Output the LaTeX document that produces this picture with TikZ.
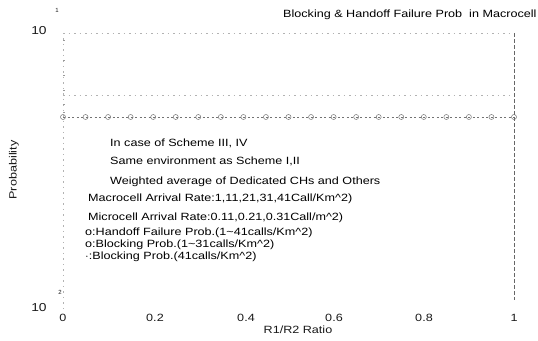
\documentclass[tikz,border=0pt]{standalone}
\usepackage{fontspec}
\setmainfont{Liberation Sans}
\newcommand{\wid}[1]{\scalebox{1.2}[1]{#1}}
\begin{document}
\begin{tikzpicture}[x=1pt,y=1pt,
  lbl/.style={font=\fontsize{10.5}{12}\selectfont, inner sep=0pt, anchor=west, text=black},
  tick/.style={font=\fontsize{10.5}{12}\selectfont, inner sep=0pt, text=black!90},
  grid/.style={draw=black!30, dash pattern=on 1.5pt off 4pt, line width=0.5pt},
  dataln/.style={draw=black!55, dash pattern=on 2pt off 2.5pt, line width=0.6pt},
  mk/.style={draw=black!55, line width=0.5pt}]
\useasboundingbox (0,0) rectangle (538,340);
\clip (0,0) rectangle (538,340);
% axes corners
\coordinate (TL) at (63,307);
\coordinate (BL) at (63,30);
\coordinate (TR) at (514,307);
\coordinate (BR) at (514,40);
\coordinate (ML) at (63,245);
\coordinate (MR) at (514,245);
\coordinate (DL) at (63,223);
\coordinate (DR) at (514,223);
% grid / axes
\draw[grid] (TL) -- (TR);
\draw[grid] (ML) -- (MR);
\draw[grid] (TL) -- (BL);
\draw[draw=black!60, dash pattern=on 4pt off 2pt, line width=0.6pt] (TR) -- (BR);
% left minor ticks
\foreach \yy in {300,280,265,250,236,228} \draw[black!40, line width=0.4pt] (63,\yy) -- (65,\yy);
% data line with markers
\draw[dataln] (DL) -- (DR);
\foreach \i in {0,...,20} {
  \node[mk, circle, minimum size=5pt, inner sep=0pt] (m\i) at ({63+22.55*\i},223) {};
}
% y labels
\node[tick, font=\fontsize{11.5}{13}\selectfont] (y10a) at (39,309) {\wid{10}};
\node[tick, font=\fontsize{6}{7}\selectfont] (y10ae) at (57,330) {1};
\node[tick, font=\fontsize{11.5}{13}\selectfont] (y10b) at (39,32) {\wid{10}};
\node[tick, font=\fontsize{6}{7}\selectfont] (y10be) at (60,48) {2};
% x ticks
\node[tick] (x0) at (63,22) {\wid{0}};
\node[tick] (x2) at (155,22) {\wid{0.2}};
\node[tick] (x4) at (246,22) {\wid{0.4}};
\node[tick] (x6) at (334,22) {\wid{0.6}};
\node[tick] (x8) at (424,22) {\wid{0.8}};
\node[tick] (x10) at (514,22) {\wid{1}};
\node[tick] (xl) at (298,10) {\wid{R1/R2 Ratio}};
\node[tick, rotate=90] (yl) at (14,170) {\wid{Probability}};
% title
\node[lbl] (title) at (283,325) {\wid{Blocking \& Handoff Failure Prob\ \ in Macrocell}};
% annotation text
\node[lbl] (t1) at (110,197) {\wid{In case of Scheme III, IV}};
\node[lbl] (t2) at (110,179) {\wid{Same environment as Scheme I,II}};
\node[lbl] (t3) at (110,158) {\wid{Weighted average of Dedicated CHs and Others}};
\node[lbl] (t4) at (88,141) {\wid{Macrocell Arrival Rate:1,11,21,31,41Call/Km\textasciicircum2)}};
\node[lbl] (t5) at (88,122) {\wid{Microcell Arrival Rate:0.11,0.21,0.31Call/m\textasciicircum2)}};
\node[lbl] (t6) at (85,107) {\wid{o:Handoff Failure Prob.(1\textasciitilde41calls/Km\textasciicircum2)}};
\node[lbl] (t7) at (85,95) {\wid{o:Blocking Prob.(1\textasciitilde31calls/Km\textasciicircum2)}};
\node[lbl] (t8) at (85,83) {\wid{$\cdot$:Blocking Prob.(41calls/Km\textasciicircum2)}};
\end{tikzpicture}
\end{document}
